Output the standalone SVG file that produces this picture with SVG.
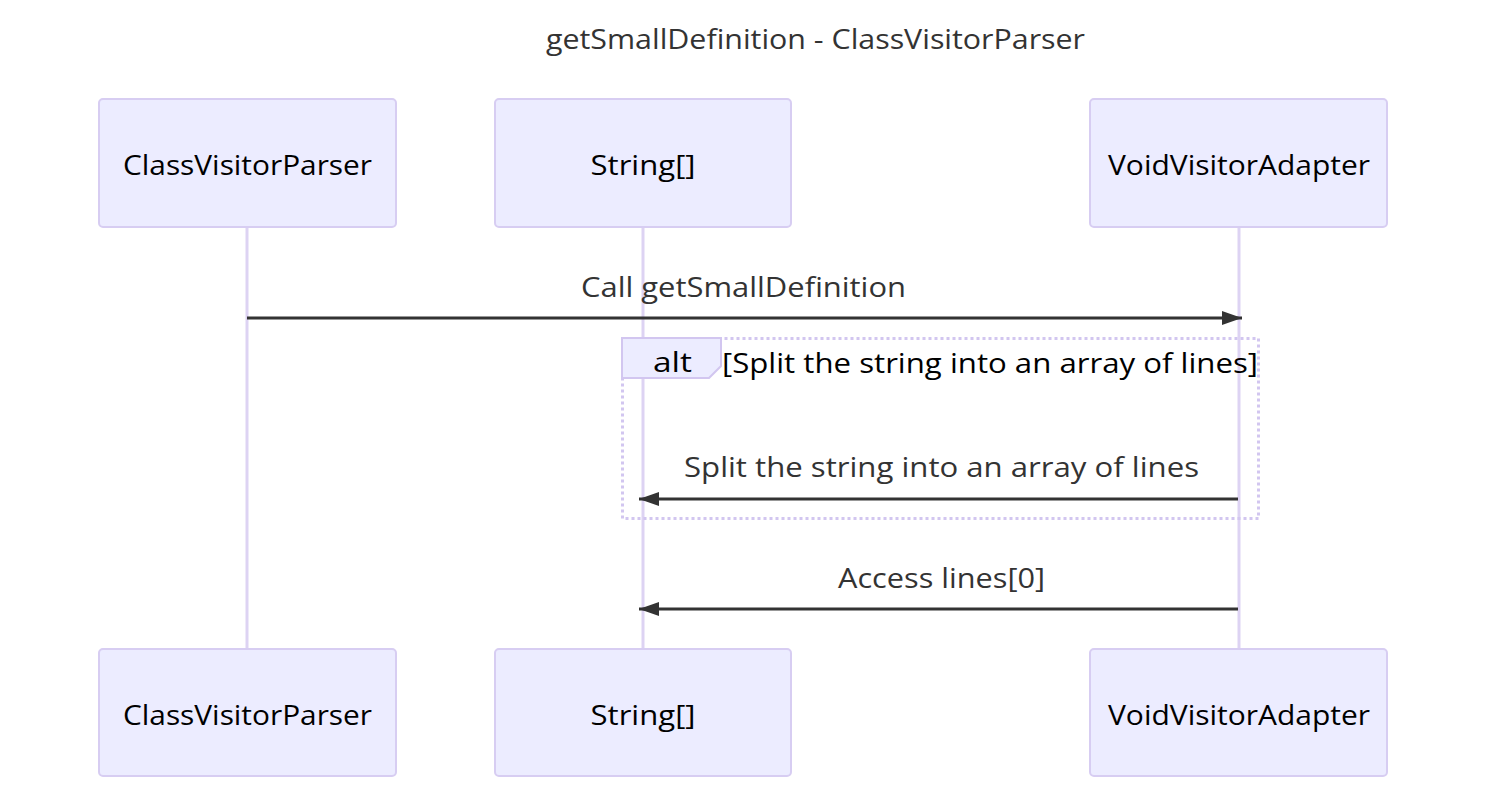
<svg xmlns="http://www.w3.org/2000/svg" width="1502" height="808" viewBox="0 0 1502 808">
<style>
.actor{fill:#ECECFF;stroke:#d7cdf2;stroke-width:2}
.actorText{font-family:"Open Sans","DejaVu Sans",sans-serif;font-size:28px;fill:#000;text-anchor:middle;dominant-baseline:central}
.life{stroke:#ddd3f3;stroke-width:3}
.msg{stroke:#333;stroke-width:3;fill:none}
.msgText{font-family:"Open Sans","DejaVu Sans",sans-serif;font-size:28px;fill:#333;text-anchor:middle}
.title{font-family:"Open Sans","DejaVu Sans",sans-serif;font-size:28px;fill:#333;text-anchor:middle}
.loop{stroke:#d2c6f0;stroke-width:3;stroke-dasharray:3 3;fill:none}
.labelBox{fill:#ECECFF;stroke:#d2c6f0;stroke-width:2}
.loopText{font-family:"Open Sans","DejaVu Sans",sans-serif;font-size:28px;fill:#000;text-anchor:middle}
</style>
<defs>
<marker id="arrow" markerWidth="20" markerHeight="14" refX="20" refY="7" orient="auto" markerUnits="userSpaceOnUse">
<path d="M0,0 L20,7 L0,14 z" fill="#333"/>
</marker>
</defs>
<rect width="1502" height="808" fill="#fff"/>
<text class="title" x="815.5" y="49" textLength="539" lengthAdjust="spacingAndGlyphs">getSmallDefinition - ClassVisitorParser</text>
<g id="lifelines">
<line class="life" x1="247" y1="227" x2="247" y2="649"/>
<line class="life" x1="643" y1="227" x2="643" y2="649"/>
<line class="life" x1="1239" y1="227" x2="1239" y2="649"/>
</g>
<g id="actor-ClassVisitorParser">
<rect class="actor" x="99" y="99" width="297" height="128" rx="4"/>
<text class="actorText" x="247.5" y="164" textLength="249" lengthAdjust="spacingAndGlyphs">ClassVisitorParser</text>
</g>
<g id="actor-String">
<rect class="actor" x="495" y="99" width="296" height="128" rx="4"/>
<text class="actorText" x="643" y="164" textLength="105" lengthAdjust="spacingAndGlyphs">String[]</text>
</g>
<g id="actor-VoidVisitorAdapter">
<rect class="actor" x="1090" y="99" width="297" height="128" rx="4"/>
<text class="actorText" x="1239" y="164" textLength="262" lengthAdjust="spacingAndGlyphs">VoidVisitorAdapter</text>
</g>
<g id="actor-ClassVisitorParser-bottom">
<rect class="actor" x="99" y="649" width="297" height="127" rx="4"/>
<text class="actorText" x="247.5" y="714" textLength="249" lengthAdjust="spacingAndGlyphs">ClassVisitorParser</text>
</g>
<g id="actor-String-bottom">
<rect class="actor" x="495" y="649" width="296" height="127" rx="4"/>
<text class="actorText" x="643" y="714" textLength="105" lengthAdjust="spacingAndGlyphs">String[]</text>
</g>
<g id="actor-VoidVisitorAdapter-bottom">
<rect class="actor" x="1090" y="649" width="297" height="127" rx="4"/>
<text class="actorText" x="1239" y="714" textLength="262" lengthAdjust="spacingAndGlyphs">VoidVisitorAdapter</text>
</g>
<g id="alt-block">
<rect class="loop" x="622.5" y="338.5" width="636" height="180"/>
<polygon class="labelBox" points="622,338 721,338 721,366 709,378 622,378"/>
<text class="loopText" x="672.5" y="372" textLength="39" lengthAdjust="spacingAndGlyphs">alt</text>
<text class="loopText" x="990" y="373" textLength="536" lengthAdjust="spacingAndGlyphs">[Split the string into an array of lines]</text>
</g>
<g id="connectors">
<line class="msg" x1="247" y1="318" x2="1242" y2="318" marker-end="url(#arrow)"/>
<text class="msgText" x="743.5" y="297" textLength="325" lengthAdjust="spacingAndGlyphs">Call getSmallDefinition</text>
<line class="msg" x1="1238" y1="499" x2="639" y2="499" marker-end="url(#arrow)"/>
<text class="msgText" x="941.5" y="477" textLength="515" lengthAdjust="spacingAndGlyphs">Split the string into an array of lines</text>
<line class="msg" x1="1238" y1="609" x2="639" y2="609" marker-end="url(#arrow)"/>
<text class="msgText" x="941.5" y="588" textLength="207" lengthAdjust="spacingAndGlyphs">Access lines[0]</text>
</g>
</svg>
